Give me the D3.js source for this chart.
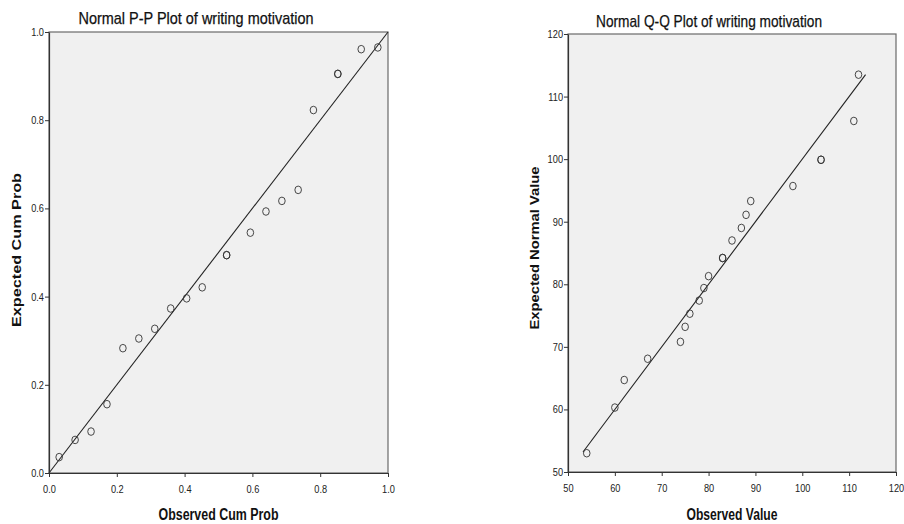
<!DOCTYPE html>
<html>
<head>
<meta charset="utf-8">
<script src="https://cdn.jsdelivr.net/npm/d3@7"></script>
<style>
  body { margin: 0; background: #fff; }
  text { font-family: "Liberation Sans", Arial, sans-serif; fill: #111; }
</style>
</head>
<body>
<div id="chart"></div>
<script>
// P-P plot values (observed vs expected cumulative probability)
const ppObserved = [0.030, 0.077, 0.124, 0.171, 0.218, 0.265, 0.312, 0.359, 0.406, 0.452, 0.524,
                    0.524, 0.594, 0.640, 0.687, 0.735, 0.780, 0.852, 0.852, 0.921, 0.970];
const ppExpected = [0.036, 0.075, 0.094, 0.156, 0.283, 0.305, 0.327, 0.373, 0.396, 0.421, 0.494,
                    0.494, 0.545, 0.593, 0.617, 0.642, 0.823, 0.905, 0.905, 0.961, 0.965];
const ppTicks = [0, 0.2, 0.4, 0.6, 0.8, 1.0];
const ppLine = [0, 1];

// Q-Q plot values (observed vs expected normal value)
const qqObserved = [54, 60, 62, 67, 74, 75, 76, 78, 79, 80, 83,
                    83, 85, 87, 88, 89, 98, 104, 104, 111, 112];
const qqExpected = [53.0, 60.3, 64.7, 68.1, 70.8, 73.2, 75.3, 77.4, 79.4, 81.3, 84.2,
                    84.2, 87.0, 89.0, 91.1, 93.3, 95.7, 99.9, 99.9, 106.1, 113.5];
const qqTicks = [50, 60, 70, 80, 90, 100, 110, 120];
const qqLine = [53.2, 113.5];

const width = 904, height = 524;

const svg = d3.select("#chart").append("svg")
    .attr("width", width)
    .attr("height", height);

// Draw one SPSS-style panel
function drawPanel(cfg) {
    const x = d3.scaleLinear().domain(cfg.domain).range([cfg.left, cfg.right]);
    const y = d3.scaleLinear().domain(cfg.domain).range([cfg.bottom, cfg.top]);

    // plot background + frame
    svg.append("rect")
        .attr("x", cfg.left)
        .attr("y", cfg.top)
        .attr("width", cfg.right - cfg.left)
        .attr("height", cfg.bottom - cfg.top)
        .style("fill", "#f0f0f0")
        .style("stroke", "#6a6a6a")
        .style("stroke-width", 1.2);

    // reference line
    svg.append("line")
        .attr("x1", x(cfg.line[0])).attr("y1", y(cfg.line[0]))
        .attr("x2", x(cfg.line[1])).attr("y2", y(cfg.line[1]))
        .style("stroke", "#222")
        .style("stroke-width", 1.1);

    // points
    svg.append("g").selectAll("ellipse")
        .data(cfg.obs.map((v, i) => [v, cfg.exp[i]]))
        .enter().append("ellipse")
        .attr("cx", d => x(d[0]))
        .attr("cy", d => y(d[1]))
        .attr("rx", 3.3)
        .attr("ry", 3.8)
        .style("fill", "none")
        .style("stroke", "#333")
        .style("stroke-width", 0.9);

    // axes
    const xAxis = svg.append("g")
        .attr("transform", `translate(0,${cfg.bottom})`)
        .call(d3.axisBottom(x).tickValues(cfg.ticks).tickFormat(cfg.fmt)
            .tickSize(4).tickSizeOuter(0).tickPadding(8));
    const yAxis = svg.append("g")
        .attr("transform", `translate(${cfg.left},0)`)
        .call(d3.axisLeft(y).tickValues(cfg.ticks).tickFormat(cfg.fmt)
            .tickSize(4).tickSizeOuter(0).tickPadding(1));

    [xAxis, yAxis].forEach(a => {
        a.select(".domain").style("stroke", "#333").style("stroke-width", 1.2);
        a.selectAll(".tick line").style("stroke", "#333");
        a.selectAll(".tick text")
            .style("font-family", "'Liberation Sans', Arial, sans-serif")
            .style("font-size", "11px")
            .style("fill", "#222")
            .attr("transform", "scale(0.84,1)")
            .attr("x", function() { return (+d3.select(this).attr("x") || 0) / 0.84; });
    });

    // title
    svg.append("text")
        .attr("x", cfg.titleX)
        .attr("y", cfg.titleY)
        .attr("text-anchor", "middle")
        .attr("textLength", cfg.titleLen)
        .attr("lengthAdjust", "spacingAndGlyphs")
        .style("font-size", "17px")
        .style("stroke", "#111")
        .style("stroke-width", 0.25)
        .text(cfg.title);

    // x axis title
    svg.append("text")
        .attr("x", (cfg.left + cfg.right) / 2)
        .attr("y", 520)
        .attr("text-anchor", "middle")
        .attr("textLength", cfg.xLabelLen)
        .attr("lengthAdjust", "spacingAndGlyphs")
        .style("font-size", "16px")
        .style("font-weight", "bold")
        .text(cfg.xLabel);

    // y axis title
    svg.append("text")
        .attr("transform", `translate(${cfg.yLabelX},${cfg.yLabelY}) rotate(-90)`)
        .attr("text-anchor", "middle")
        .attr("textLength", cfg.yLabelLen)
        .attr("lengthAdjust", "spacingAndGlyphs")
        .style("font-size", "12px")
        .style("font-weight", "bold")
        .text(cfg.yLabel);
}

drawPanel({
    domain: [0, 1], left: 49, right: 388, top: 32, bottom: 473,
    obs: ppObserved, exp: ppExpected, ticks: ppTicks, line: ppLine,
    fmt: d3.format(".1f"),
    title: "Normal P-P Plot of writing motivation", titleX: 196, titleY: 24, titleLen: 235,
    xLabel: "Observed Cum Prob", xLabelLen: 120,
    yLabel: "Expected Cum Prob", yLabelX: 21, yLabelY: 250, yLabelLen: 154
});

drawPanel({
    domain: [50, 120], left: 568, right: 896, top: 34, bottom: 472,
    obs: qqObserved, exp: qqExpected, ticks: qqTicks, line: qqLine,
    fmt: d3.format("d"),
    title: "Normal Q-Q Plot of writing motivation", titleX: 709, titleY: 27, titleLen: 226,
    xLabel: "Observed Value", xLabelLen: 91,
    yLabel: "Expected Normal Value", yLabelX: 539, yLabelY: 248, yLabelLen: 163
});
</script>
</body>
</html>
